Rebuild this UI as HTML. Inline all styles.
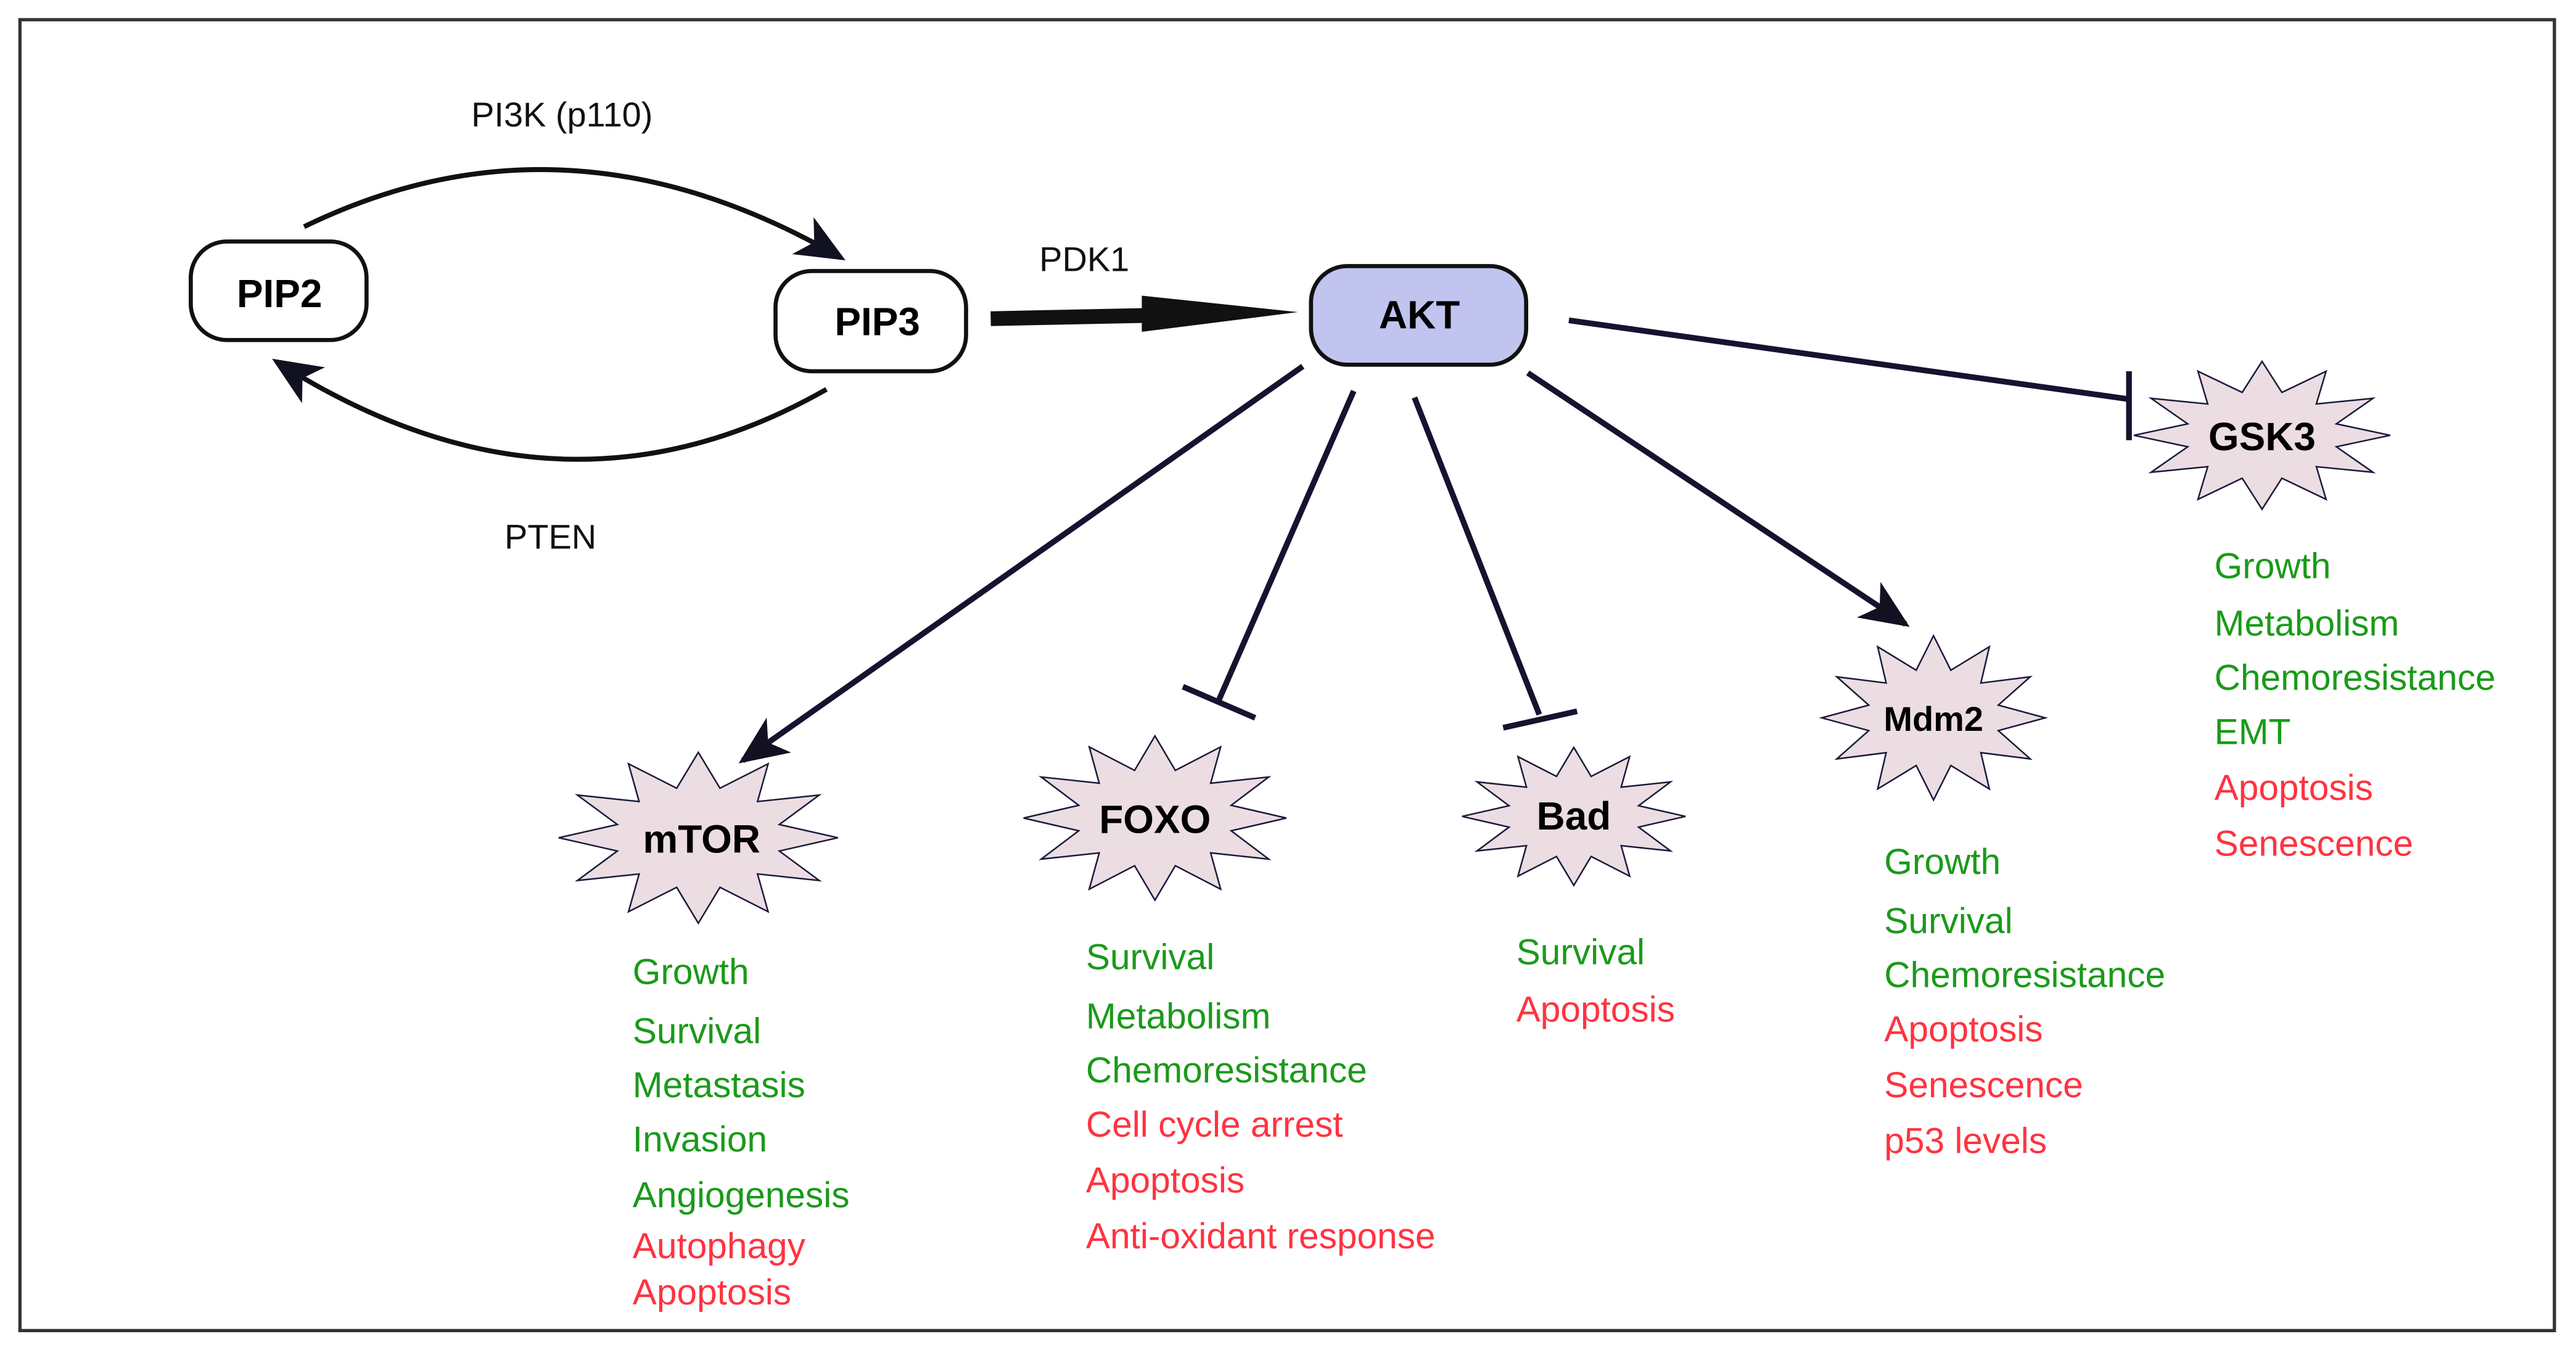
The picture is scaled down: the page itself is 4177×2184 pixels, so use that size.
<!DOCTYPE html>
<html><head><meta charset="utf-8"><style>
html,body{margin:0;padding:0;background:#fff;}
svg{display:block;}
text{font-family:"Liberation Sans",sans-serif;}
.g{fill:#1a9a1a;font-size:22px;}
.r{fill:#ff3340;font-size:22px;}
.lbl{font-size:21px;fill:#111;}
.nd{font-size:24px;font-weight:bold;fill:#000;}
</style></head><body>
<svg width="4177" height="2184" viewBox="0 0 1568 820" xmlns="http://www.w3.org/2000/svg">
<defs>
<polygon id="st" points="1,0 .58,.155 .866,.5 .424,.424 .5,.866 .155,.58 0,1 -.155,.58 -.5,.866 -.424,.424 -.866,.5 -.58,.155 -1,0 -.58,-.155 -.866,-.5 -.424,-.424 -.5,-.866 -.155,-.58 0,-1 .155,-.58 .5,-.866 .424,-.424 .866,-.5 .58,-.155" fill="#ecdde3" stroke="#1a1a3a" stroke-width="2.5" vector-effect="non-scaling-stroke"/>
<marker id="ah" markerWidth="10" markerHeight="10" refX="8" refY="5" orient="auto" markerUnits="userSpaceOnUse" viewBox="0 0 10 10"><path d="M0,0 L10,5 L0,10 L3,5z" fill="#111"/></marker>
<marker id="ah2" markerWidth="30" markerHeight="30" refX="27" refY="15" orient="auto" markerUnits="userSpaceOnUse" viewBox="0 0 30 30"><path d="M0,2 L30,15 L0,28 L8,15z" fill="#111122"/></marker>
</defs>
<rect x="12" y="12" width="1543" height="798" fill="none" stroke="#333" stroke-width="2"/>

<!-- PIP nodes -->
<rect x="116" y="147" width="107" height="60" rx="22" fill="#fff" stroke="#111" stroke-width="2.5"/>
<text x="170" y="187" text-anchor="middle" class="nd">PIP2</text>
<rect x="472" y="165" width="116" height="61" rx="22" fill="#fff" stroke="#111" stroke-width="2.5"/>
<text x="534" y="204" text-anchor="middle" class="nd">PIP3</text>
<rect x="798" y="162" width="131" height="60" rx="22" fill="#c0c4ee" stroke="#111" stroke-width="2.5"/>
<text x="864" y="200" text-anchor="middle" class="nd">AKT</text>

<!-- curves -->
<path d="M185,138 Q345,60 512,157" fill="none" stroke="#111" stroke-width="3" marker-end="url(#ah2)"/>
<text x="342" y="77" text-anchor="middle" class="lbl">PI3K (p110)</text>
<path d="M503,237 Q340,330 168,220" fill="none" stroke="#111" stroke-width="3" marker-end="url(#ah2)"/>
<text x="335" y="334" text-anchor="middle" class="lbl">PTEN</text>

<!-- PDK1 -->
<line x1="603" y1="194" x2="700" y2="192" stroke="#111" stroke-width="9"/>
<polygon points="695,180 790,190 695,202" fill="#111"/>
<text x="660" y="165" text-anchor="middle" class="lbl">PDK1</text>

<!-- AKT edges -->
<g stroke="#141430" stroke-width="3.5" fill="none">
<line x1="793" y1="223" x2="452" y2="463" marker-end="url(#ah2)"/>
<line x1="824" y1="238" x2="742" y2="426"/>
<line x1="720" y1="418" x2="764" y2="437"/>
<line x1="861" y1="242" x2="937" y2="435"/>
<line x1="915" y1="443" x2="960" y2="433"/>
<line x1="930" y1="227" x2="1160" y2="380" marker-end="url(#ah2)"/>
<line x1="955" y1="195" x2="1296" y2="243"/>
<line x1="1296" y1="226" x2="1296" y2="268"/>
</g>

<!-- stars -->
<use href="#st" transform="translate(425,510) scale(85,52)"/>
<text x="427" y="519" text-anchor="middle" class="nd">mTOR</text>
<use href="#st" transform="translate(703,498) scale(80,50)"/>
<text x="703" y="507" text-anchor="middle" class="nd">FOXO</text>
<use href="#st" transform="translate(958,497) scale(68,42)"/>
<text x="958" y="505" text-anchor="middle" class="nd">Bad</text>
<use href="#st" transform="translate(1177,437) scale(68,50)"/>
<text x="1177" y="445" text-anchor="middle" class="nd" style="font-size:21px">Mdm2</text>
<use href="#st" transform="translate(1377,265) scale(78,45)"/>
<text x="1377" y="274" text-anchor="middle" class="nd">GSK3</text>

<!-- lists -->
<text x="385" y="599" class="g">Growth</text>
<text x="385" y="635" class="g">Survival</text>
<text x="385" y="668" class="g">Metastasis</text>
<text x="385" y="701" class="g">Invasion</text>
<text x="385" y="735" class="g">Angiogenesis</text>
<text x="385" y="766" class="r">Autophagy</text>
<text x="385" y="794" class="r">Apoptosis</text>

<text x="661" y="590" class="g">Survival</text>
<text x="661" y="626" class="g">Metabolism</text>
<text x="661" y="659" class="g">Chemoresistance</text>
<text x="661" y="692" class="r">Cell cycle arrest</text>
<text x="661" y="726" class="r">Apoptosis</text>
<text x="661" y="760" class="r">Anti-oxidant response</text>

<text x="923" y="587" class="g">Survival</text>
<text x="923" y="622" class="r">Apoptosis</text>

<text x="1147" y="532" class="g">Growth</text>
<text x="1147" y="568" class="g">Survival</text>
<text x="1147" y="601" class="g">Chemoresistance</text>
<text x="1147" y="634" class="r">Apoptosis</text>
<text x="1147" y="668" class="r">Senescence</text>
<text x="1147" y="702" class="r">p53 levels</text>

<text x="1348" y="352" class="g">Growth</text>
<text x="1348" y="387" class="g">Metabolism</text>
<text x="1348" y="420" class="g">Chemoresistance</text>
<text x="1348" y="453" class="g">EMT</text>
<text x="1348" y="487" class="r">Apoptosis</text>
<text x="1348" y="521" class="r">Senescence</text>
</svg>
</body></html>
